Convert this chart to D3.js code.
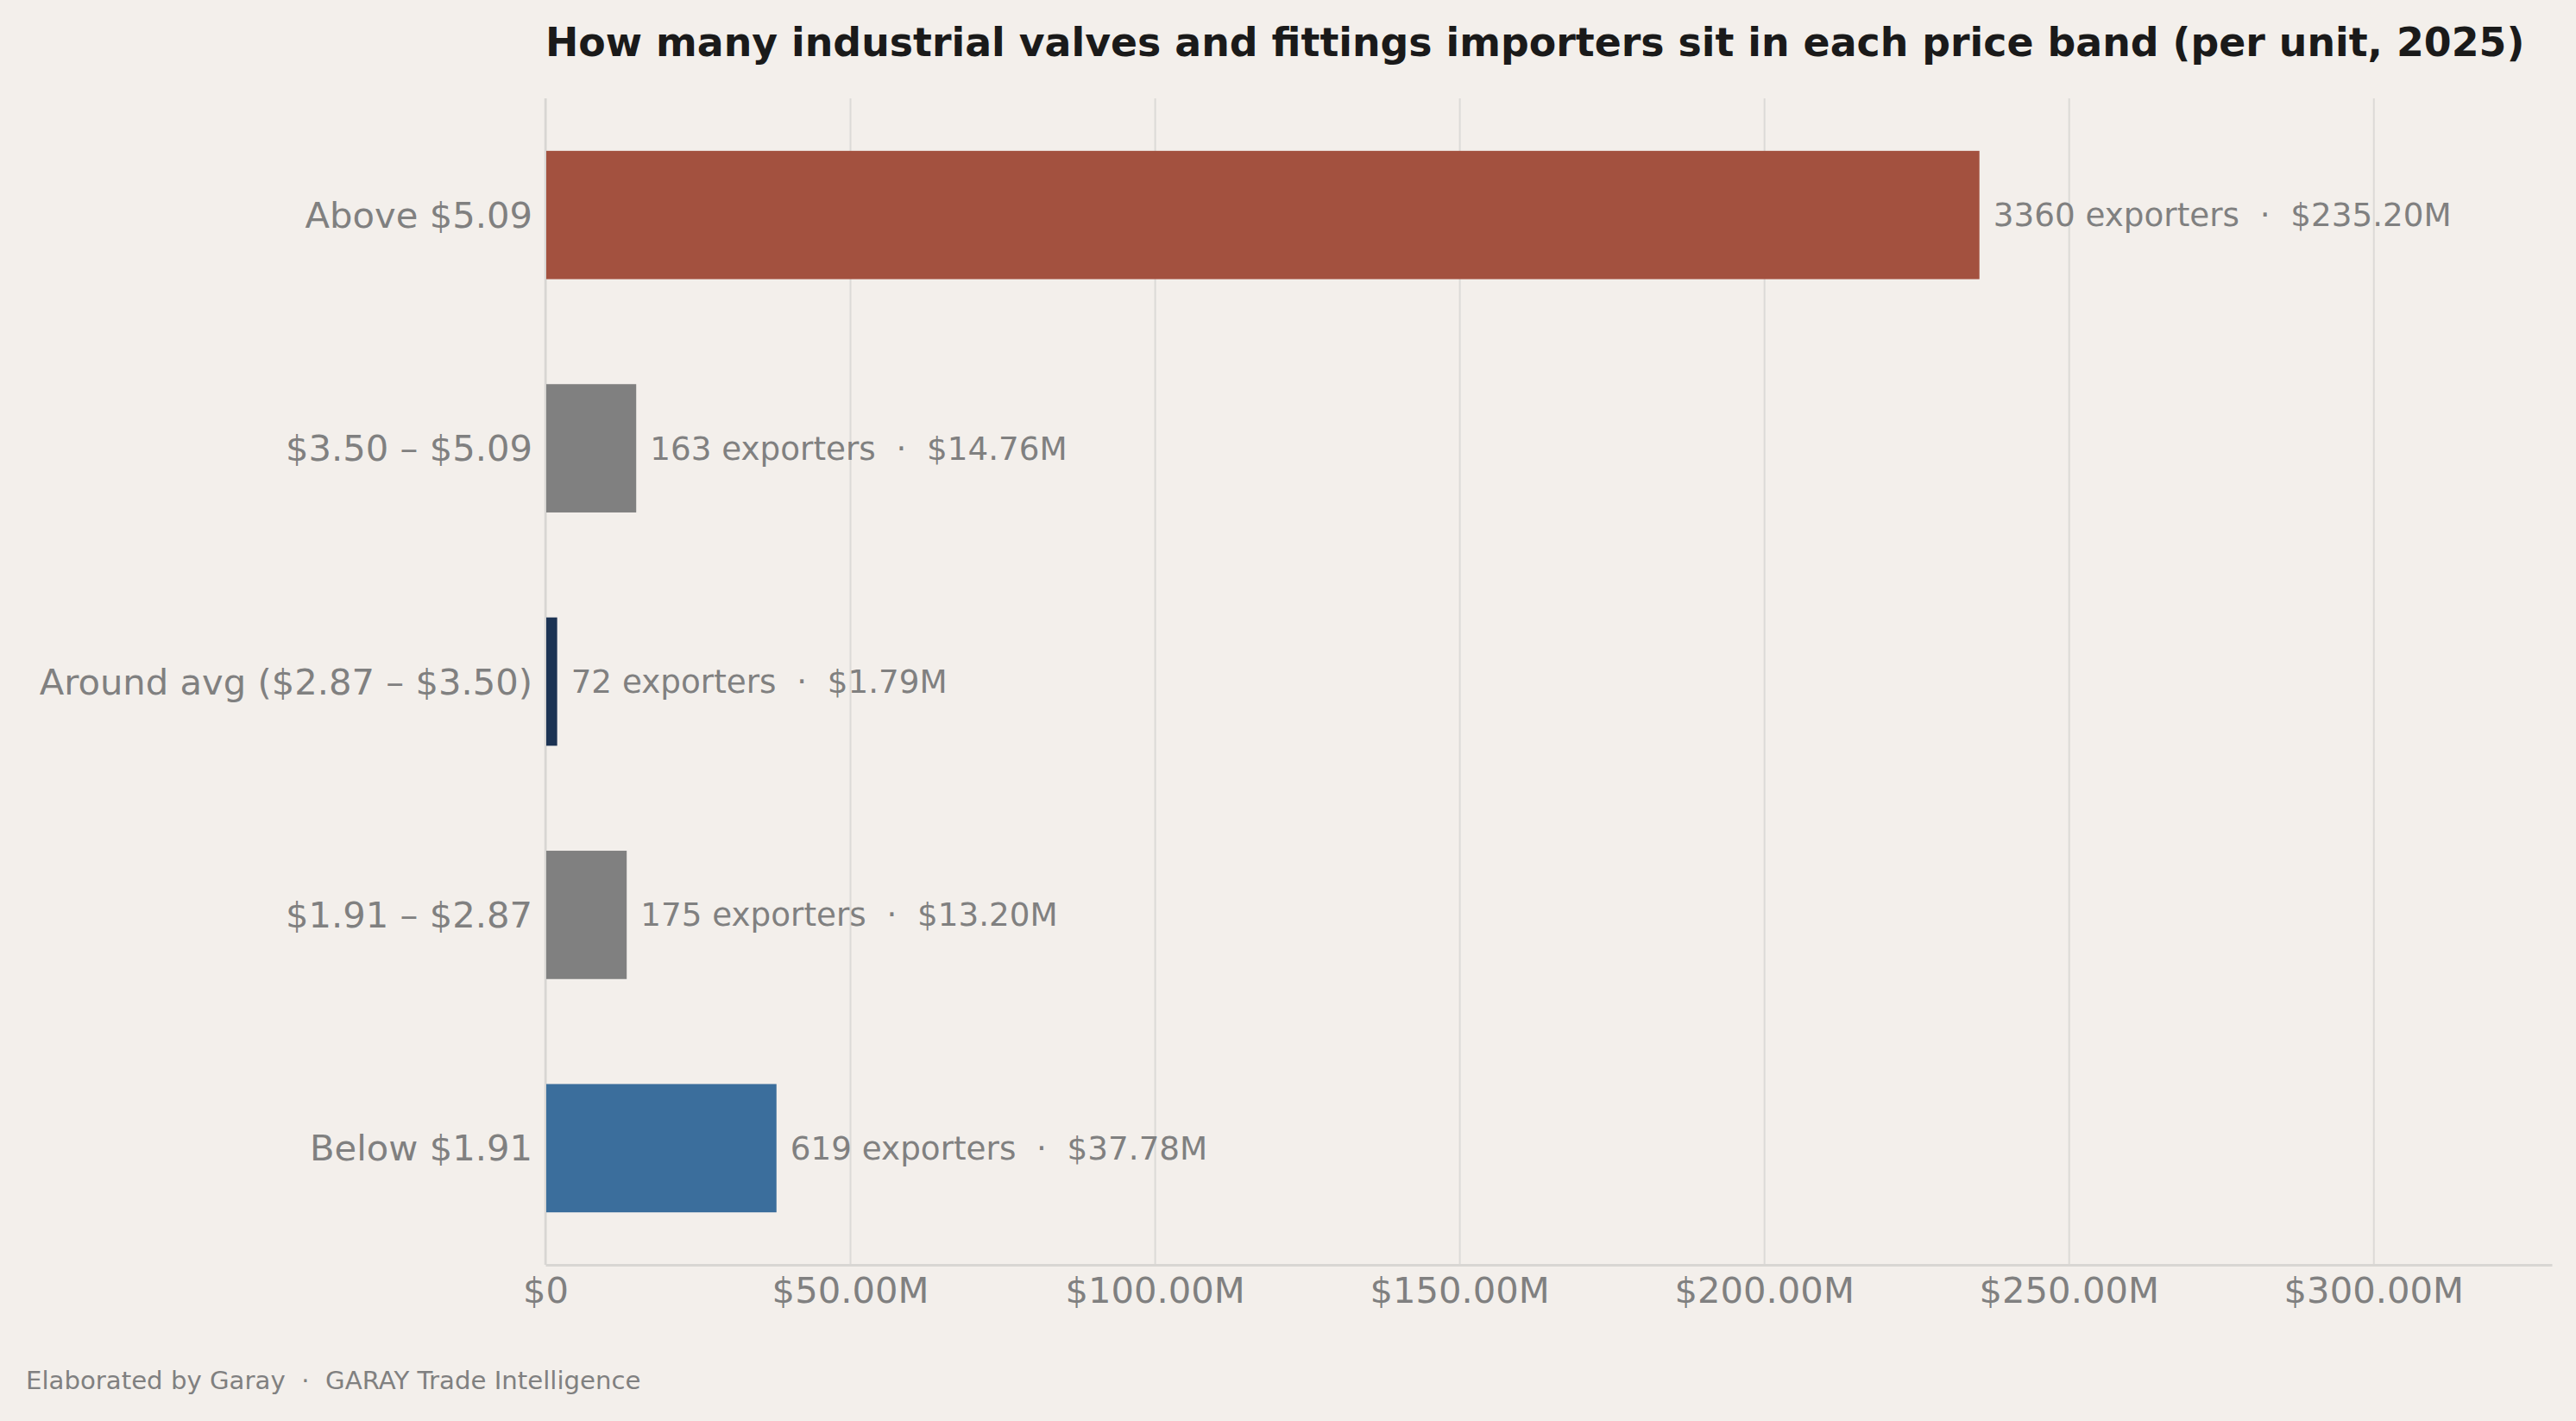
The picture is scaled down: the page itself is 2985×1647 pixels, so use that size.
<html><head>
<title>Price bands</title>
<script src="https://d3js.org/d3.v7.min.js"></script>
<style>
  body { margin: 0; background: #f3efeb; }
  svg text { font-family: "DejaVu Sans", sans-serif; }
  .gridlines line { stroke: #dcdad7; stroke-width: 2; }
  .gridlines .domain { stroke: none; }
  .x.axis .domain { stroke: #d8d6d3; stroke-width: 3; }
  .x.axis text { fill: #808080; font-size: 41.7px; }
  .label { fill: #808080; font-size: 41.7px; }
  .value { fill: #808080; font-size: 37.3px; white-space: pre; }
</style>
</head>
<body>
<svg id="chart" width="2985" height="1647"></svg>
<script>
  // price bands, top to bottom as drawn
  const bands = ["Above $5.09", "$3.50 – $5.09", "Around avg ($2.87 – $3.50)", "$1.91 – $2.87", "Below $1.91"];
  const exporters = [3360, 163, 72, 175, 619];
  const valueM = [235.20, 14.76, 1.79, 13.20, 37.78]; // $ millions
  const barColors = ["#a3513f", "#808080", "#1c3353", "#808080", "#3b6e9c"];
  const tickValues = [0, 50, 100, 150, 200, 250, 300];

  let svg = d3.select("svg#chart");
  let margin = { top: 114, right: 28, bottom: 181, left: 632 };
  let width = +svg.attr("width");
  let height = +svg.attr("height");
  let chartWidth = width - margin.left - margin.right;
  let chartHeight = height - margin.top - margin.bottom;

  svg.append("rect").attr("width", width).attr("height", height).attr("fill", "#f3efeb");

  const xScale = d3.scaleLinear()
    .domain([0, d3.max(valueM) * 1.4])
    .range([0, chartWidth]);

  const yScale = d3.scaleBand()
    .domain(bands)
    .range([0, chartHeight])
    .paddingInner(0.45)
    .paddingOuter(0.225);

  let chart = svg.append("g").attr("transform", "translate(" + margin.left + "," + margin.top + ")");

  // vertical gridlines
  let grid = d3.axisBottom(xScale).tickValues(tickValues).tickSize(-chartHeight).tickFormat("");
  chart.append("g").attr("class", "gridlines")
    .attr("transform", "translate(0," + chartHeight + ")")
    .call(grid);

  // left spine
  chart.append("line")
    .attr("x1", 0).attr("x2", 0).attr("y1", 0).attr("y2", chartHeight)
    .attr("stroke", "#d8d6d3").attr("stroke-width", 2.5);

  // x axis
  let bottomAxis = d3.axisBottom(xScale).tickValues(tickValues).tickSize(0).tickPadding(14)
    .tickFormat(d => d === 0 ? "$0" : "$" + d.toFixed(2) + "M");
  chart.append("g").attr("class", "x axis")
    .attr("transform", "translate(0," + chartHeight + ")")
    .call(bottomAxis);

  // bars
  bands.forEach((b, i) => {
    chart.append("rect")
      .attr("x", xScale(0) + 1)
      .attr("y", yScale(b))
      .attr("width", xScale(valueM[i]))
      .attr("height", yScale.bandwidth())
      .attr("fill", barColors[i]);

    chart.append("text").attr("class", "label")
      .attr("x", -15)
      .attr("y", yScale(b) + yScale.bandwidth() / 2)
      .attr("dy", "0.35em")
      .attr("text-anchor", "end")
      .text(b);

    chart.append("text").attr("class", "value")
      .attr("x", xScale(valueM[i]) + 17)
      .attr("y", yScale(b) + yScale.bandwidth() / 2)
      .attr("dy", "0.35em")
      .text(exporters[i] + " exporters  ·  $" + valueM[i].toFixed(2) + "M");
  });

  // title
  svg.append("text")
    .attr("x", margin.left).attr("y", 65)
    .attr("font-size", "45.8px").attr("font-weight", "bold").attr("fill", "#1a1a1a")
    .text("How many industrial valves and fittings importers sit in each price band (per unit, 2025)");

  // footer
  svg.append("text")
    .attr("x", 30).attr("y", 1610)
    .attr("font-size", "29.2px").attr("fill", "#808080")
    .style("white-space", "pre")
    .text("Elaborated by Garay  ·  GARAY Trade Intelligence");
</script>
</body>
</html>
